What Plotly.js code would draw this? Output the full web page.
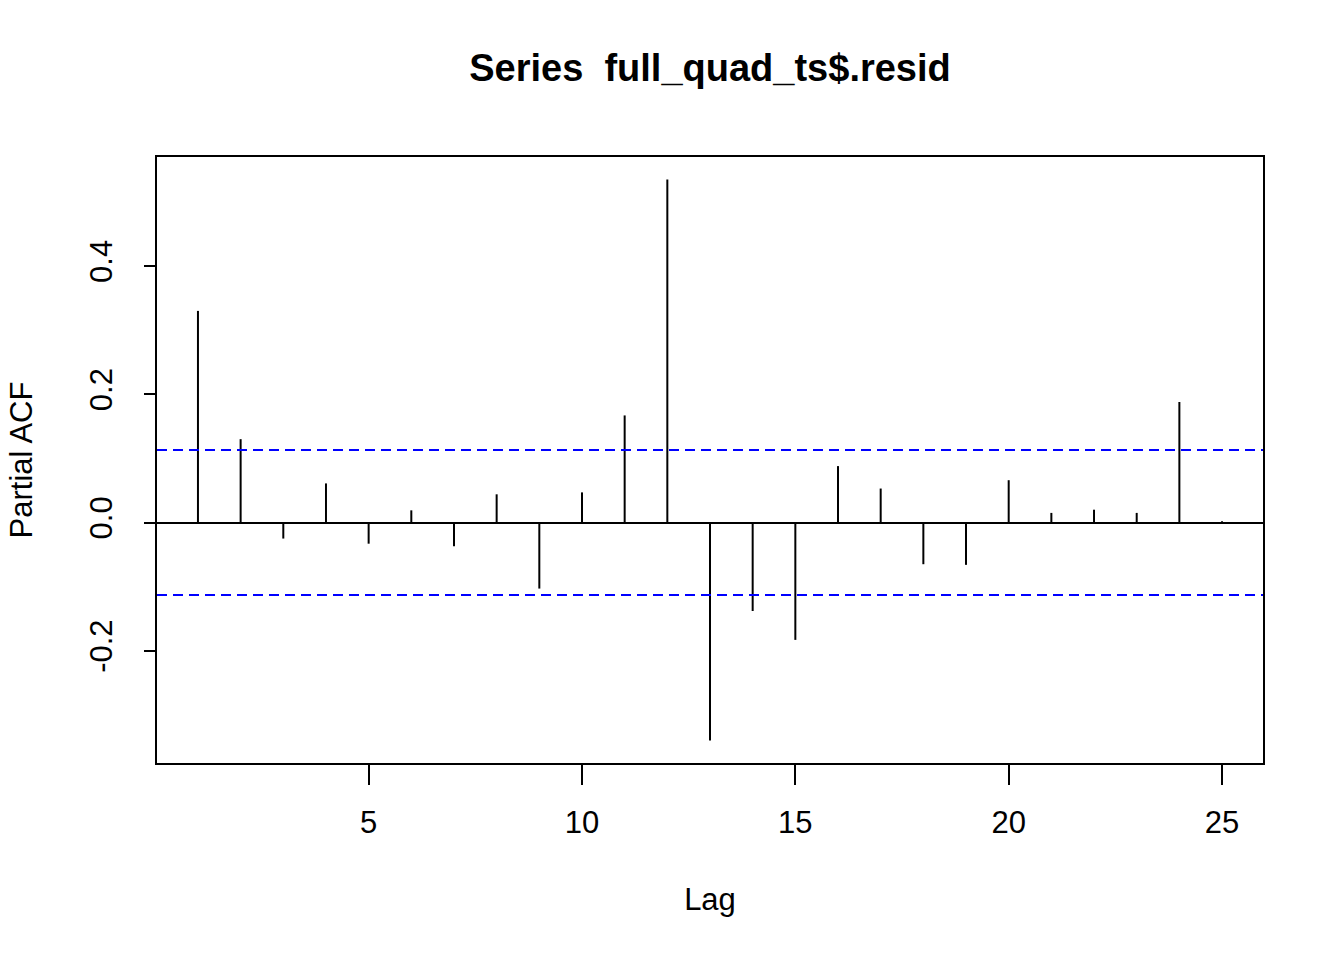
<!DOCTYPE html>
<html>
<head>
<meta charset="utf-8">
<script src="https://cdn.plot.ly/plotly-3.0.1.min.js"></script>
<style>html,body{margin:0;padding:0;background:#fff;}</style>
</head>
<body>
<div id="chart" style="width:1344px;height:960px;"></div>
<script>
// Data
const lags = [1,2,3,4,5,6,7,8,9,10,11,12,13,14,15,16,17,18,19,20,21,22,23,24,25];
const pacfValues = [0.330,0.130,-0.025,0.061,-0.033,0.019,-0.037,0.044,-0.103,0.047,0.167,0.535,
                    -0.340,-0.138,-0.183,0.088,0.053,-0.065,-0.066,0.066,0.015,0.020,0.015,0.188,0.002];
const confLimit = 0.113;
const xTickVals = [5,10,15,20,25];
const xTickText = ["5","10","15","20","25"];
const yTickVals = [-0.2,0.0,0.2,0.4];
const yTickText = ["-0.2","0.0","0.2","0.4"];
const titleText = "Series \u00a0full_quad_ts$.resid";
const xTitle = "Lag";
const yTitle = "Partial ACF";

// Build stems (vertical segments from 0 to value)
const sx = [], sy = [];
lags.forEach((l,i)=>{ sx.push(l,l,null); sy.push(0,pacfValues[i],null); });

// R-style 4% axis extension
function extend(a,b){ const d=(b-a)*0.04; return [a-d,b+d]; }
const xr = extend(Math.min(...lags), Math.max(...lags));
const yr = extend(Math.min(...pacfValues,-confLimit), Math.max(...pacfValues,confLimit));

const font = "Liberation Sans, Arial, sans-serif";

const traces = [
  {x: sx, y: sy, type:'scatter', mode:'lines', line:{color:'#000', width:2}, hoverinfo:'skip', showlegend:false}
];

const layout = {
  width:1344, height:960,
  margin:{l:157, r:81, t:157, b:197},
  paper_bgcolor:'#fff', plot_bgcolor:'#fff',
  showlegend:false,
  font:{family:font, color:'#000', size:31},
  title:{text:titleText, font:{family:font, size:38, weight:'bold', color:'#000'},
         x:0.5, xref:'paper', xanchor:'center', y:1-68/960, yref:'container', yanchor:'middle'},
  xaxis:{
    range:xr, showgrid:false, zeroline:false,
    showline:true, mirror:true, linecolor:'#000', linewidth:2,
    ticks:'outside', ticklen:20, tickwidth:2, tickcolor:'#000',
    tickvals:xTickVals, ticktext:xTickText, tickfont:{size:31},
    ticklabelstandoff:11,
    title:{text:xTitle, font:{size:31}, standoff:49}
  },
  yaxis:{
    range:yr, showgrid:false,
    zeroline:true, zerolinecolor:'#000', zerolinewidth:2,
    showline:true, mirror:true, linecolor:'#000', linewidth:2,
    ticks:'outside', ticklen:11, tickwidth:2, tickcolor:'#000',
    tickvals:yTickVals, ticktext:yTickText, tickangle:-90, tickfont:{size:31},
    ticklabelstandoff:20,
    title:{text:yTitle, font:{size:31}, standoff:42}
  },
  shapes:[
    {type:'line', xref:'paper', x0:0, x1:1, yref:'y', y0:confLimit, y1:confLimit, line:{color:'#0000ff', width:2, dash:'10px,6px'}},
    {type:'line', xref:'paper', x0:0, x1:1, yref:'y', y0:-confLimit, y1:-confLimit, line:{color:'#0000ff', width:2, dash:'10px,6px'}}
  ]
};

Plotly.newPlot('chart', traces, layout, {displayModeBar:false, staticPlot:true});
</script>
</body>
</html>
